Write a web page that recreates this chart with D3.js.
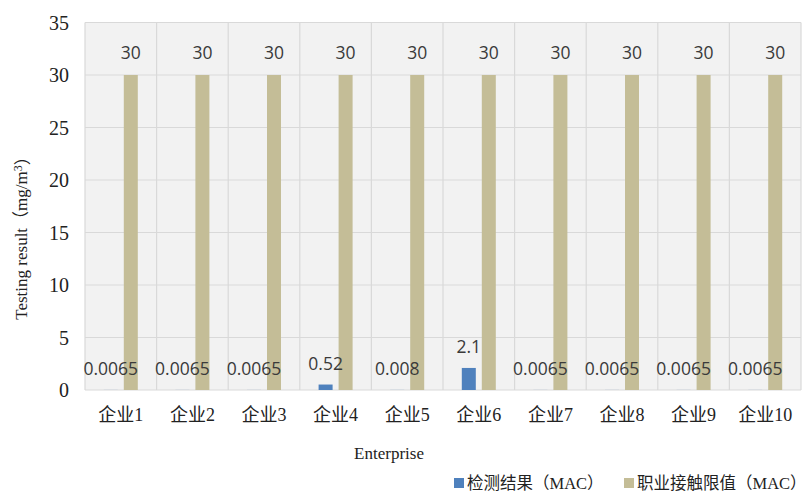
<!DOCTYPE html>
<html>
<head>
<meta charset="utf-8">
<script src="https://cdn.jsdelivr.net/npm/d3@7"></script>
<style>
  html, body { margin: 0; padding: 0; background: #ffffff; }
  svg { display: block; }
</style>
</head>
<body>
<svg id="chart" width="808" height="493"></svg>
<script>
// Enterprises and their measured concentrations vs. the occupational exposure limit
const categories = ["企业1", "企业2", "企业3", "企业4", "企业5", "企业6", "企业7", "企业8", "企业9", "企业10"];
const measured = [0.0065, 0.0065, 0.0065, 0.52, 0.008, 2.1, 0.0065, 0.0065, 0.0065, 0.0065];
const limits = [30, 30, 30, 30, 30, 30, 30, 30, 30, 30];
const measuredLabels = ["0.0065", "0.0065", "0.0065", "0.52", "0.008", "2.1", "0.0065", "0.0065", "0.0065", "0.0065"];
const yTicks = [0, 5, 10, 15, 20, 25, 30, 35];
const seriesNames = ["检测结果（MAC）", "职业接触限值（MAC）"];
const colors = ["#4f81bd", "#c4bd97"];

const svg = d3.select("#chart");
const plot = { left: 85, right: 801, top: 22.5, bottom: 390 };

const x = d3.scaleBand().domain(categories).range([plot.left, plot.right]).padding(0);
const y = d3.scaleLinear().domain([0, 35]).range([plot.bottom, plot.top]);

const barW = 14, offset = 10;
const serif = "'Liberation Serif', 'Times New Roman', serif";
const cjk = "'Liberation Serif', 'Noto Sans CJK SC', serif";
const labelFont = "'Open Sans', 'Noto Sans', sans-serif";

// plot background
svg.append("rect")
  .attr("x", plot.left).attr("y", plot.top)
  .attr("width", plot.right - plot.left).attr("height", plot.bottom - plot.top)
  .attr("fill", "#f2f2f2");

// horizontal gridlines
svg.append("g").selectAll("line").data(yTicks).join("line")
  .attr("x1", plot.left).attr("x2", plot.right)
  .attr("y1", d => y(d)).attr("y2", d => y(d))
  .attr("stroke", "#d9d9d9").attr("stroke-width", 1.2);

// vertical category dividers
const edges = categories.map(c => x(c)).concat([x(categories[categories.length - 1]) + x.bandwidth()]);
svg.append("g").selectAll("line").data(edges).join("line")
  .attr("x1", d => d).attr("x2", d => d)
  .attr("y1", plot.top).attr("y2", plot.bottom)
  .attr("stroke", "#d9d9d9").attr("stroke-width", 1.2);

// y axis tick labels
svg.append("g").selectAll("text").data(yTicks).join("text")
  .attr("x", 69).attr("y", d => y(d))
  .attr("dy", "0.35em")
  .attr("text-anchor", "end")
  .attr("font-family", serif).attr("font-size", 20)
  .attr("fill", "#222")
  .text(d => d);

// x axis category labels
svg.append("g").selectAll("text").data(categories).join("text")
  .attr("x", d => x(d) + x.bandwidth() / 2).attr("y", 415)
  .attr("dy", "0.35em")
  .attr("text-anchor", "middle")
  .attr("font-family", cjk).attr("font-size", 18)
  .attr("fill", "#222")
  .text(d => d);

// measured bars
svg.append("g").selectAll("rect").data(measured).join("rect")
  .attr("x", (d, i) => x(categories[i]) + x.bandwidth() / 2 - offset - barW / 2)
  .attr("y", d => y(d))
  .attr("width", barW)
  .attr("height", d => y(0) - y(d))
  .attr("fill", colors[0]);

// limit bars
svg.append("g").selectAll("rect").data(limits).join("rect")
  .attr("x", (d, i) => x(categories[i]) + x.bandwidth() / 2 + offset - barW / 2)
  .attr("y", d => y(d))
  .attr("width", barW)
  .attr("height", d => y(0) - y(d))
  .attr("fill", colors[1]);

// value labels
svg.append("g").selectAll("text").data(measured).join("text")
  .attr("x", (d, i) => x(categories[i]) + x.bandwidth() / 2 - offset)
  .attr("y", d => y(d) - 21)
  .attr("dy", "0.35em")
  .attr("text-anchor", "middle")
  .attr("font-family", labelFont).attr("font-size", 17.5)
  .attr("fill", "#3a3a3a")
  .text((d, i) => measuredLabels[i]);

svg.append("g").selectAll("text").data(limits).join("text")
  .attr("x", (d, i) => x(categories[i]) + x.bandwidth() / 2 + offset)
  .attr("y", d => y(d) - 22)
  .attr("dy", "0.35em")
  .attr("text-anchor", "middle")
  .attr("font-family", labelFont).attr("font-size", 17.5)
  .attr("fill", "#3a3a3a")
  .text(d => d);

// axis titles
svg.append("text")
  .attr("x", 389).attr("y", 453).attr("dy", "0.35em")
  .attr("text-anchor", "middle")
  .attr("font-family", serif).attr("font-size", 17)
  .attr("fill", "#222")
  .text("Enterprise");

const yTitle = svg.append("text")
  .attr("transform", "translate(21,234) rotate(-90)")
  .attr("dy", "0.35em")
  .attr("text-anchor", "middle")
  .attr("font-family", cjk).attr("font-size", 17)
  .attr("fill", "#222");
yTitle.append("tspan").text("Testing result（mg/m");
yTitle.append("tspan").attr("dy", "-0.45em").attr("font-size", 12).text("3");
yTitle.append("tspan").attr("dy", "0.45em").text("）");

// legend
const legend = svg.append("g");
const legendItems = [{ x: 454, w: 10 }, { x: 624, w: 10 }];
seriesNames.forEach((name, i) => {
  legend.append("rect")
    .attr("x", legendItems[i].x).attr("y", 478)
    .attr("width", legendItems[i].w).attr("height", 10)
    .attr("fill", colors[i]);
  legend.append("text")
    .attr("x", legendItems[i].x + legendItems[i].w + 3).attr("y", 483)
    .attr("dy", "0.35em")
    .attr("font-family", cjk).attr("font-size", 16.5)
    .attr("fill", "#222")
    .text(name);
});
</script>
</body>
</html>
